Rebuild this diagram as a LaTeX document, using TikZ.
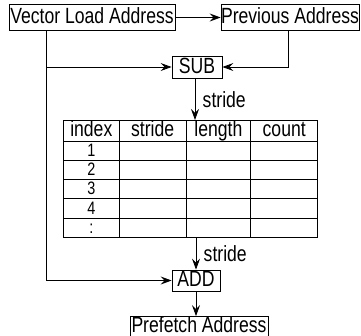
\documentclass[tikz,border=0pt]{standalone}
\usepackage{fontspec}
\setmainfont[FakeStretch=0.8]{Liberation Sans}
\usepackage{tikz}
\usetikzlibrary{arrows.meta, matrix, calc}
\tikzstyle{box} = [rectangle, draw, line width=0.8pt, inner sep=0pt, text height=16pt, text depth=4pt, text centered]
\tikzstyle{line} = [draw, line width=0.8pt, -{Stealth[length=11pt, width=8pt, inset=4pt]}]
\tikzstyle{cell} = [rectangle, draw, line width=0.8pt, inner sep=0pt, text height=13pt, text depth=2pt, anchor=center]

\begin{document}
\begin{tikzpicture}[x=1pt,y=-1pt,auto,font=\fontsize{22}{24}\selectfont]
    \useasboundingbox (0,0) rectangle (361,335);
    % Place nodes
    \node [box, minimum width=166pt, minimum height=26.5pt] (vla) at (92,17.5) {Vector Load Address};
    \node [box, minimum width=134pt, minimum height=26.5pt] (prev) at (290,17.5) {Previous Address};
    \node [box, minimum width=50pt, minimum height=22pt] (sub) at (197,67) {SUB};
    % stride table, the index digits a bit smaller
    \matrix (tab) [matrix of nodes, nodes in empty cells, inner sep=0pt, column sep=-0.8pt, row sep=-0.8pt,
        nodes={cell, minimum height=19.3pt},
        column 1/.style={nodes={minimum width=55.8pt, font=\fontsize{18}{20}\selectfont}},
        column 2/.style={nodes={minimum width=66.8pt}},
        column 3/.style={nodes={minimum width=64.8pt}},
        column 4/.style={nodes={minimum width=66.8pt}},
        row 1/.style={nodes={minimum height=20.4pt, font=\fontsize{22}{24}\selectfont}}] at (190.5,179)
    {
        index & stride & length & count \\
        1 & & & \\
        2 & & & \\
        3 & & & \\
        4 & & & \\
        : & & & \\
    };
    \node [box, minimum width=48pt, minimum height=21pt] (add) at (196,280.5) {ADD};
    \node [box, minimum width=138pt, minimum height=20pt] (pf) at (199,326.5) {Prefetch Address};
    \coordinate (tap) at ([xshift=38pt]vla.south west);
    % Draw edges
    \path [line] (vla) -- (prev);
    \path [line] ([xshift=-2pt]prev.south) |- (sub);
    \path [line] (tap |- sub) -- (sub);
    \path [line] (tap) |- (add);
    \path [line] ([xshift=-2pt]sub.south) -- ([xshift=-2pt]sub.south |- tab.north) node [midway, right=4pt] {stride};
    \path [line] (tab.south -| add) -- (add) node [midway, right=4pt] {stride};
    \path [line] (add) -- (add |- pf.north);
\end{tikzpicture}
\end{document}
